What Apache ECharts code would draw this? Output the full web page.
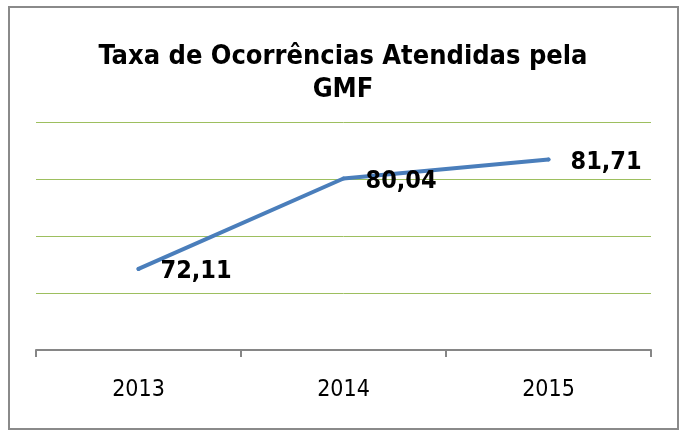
<!DOCTYPE html>
<html>
<head>
<meta charset="utf-8">
<script src="https://cdn.jsdelivr.net/npm/echarts@6/dist/echarts.min.js"></script>
<style>
  html, body { margin: 0; padding: 0; background: #fff; }
  #box { position: absolute; left: 8px; top: 6px; width: 667px; height: 420px; border: 2px solid #8a8a8a; }
  #chart { position: absolute; left: 0; top: 0; width: 686px; height: 432px; }
</style>
</head>
<body>
<div id="box"></div>
<div id="chart"></div>
<script>
// dados
var anos = ['2013', '2014', '2015'];
var taxa = [72.11, 80.04, 81.71];

var chart = echarts.init(document.getElementById('chart'));
chart.setOption({
    animation: false,
    title: {
        text: 'Taxa de Ocorrências Atendidas pela\nGMF',
        left: 'center',
        top: 35,
        textStyle: {
            fontFamily: 'DejaVu Sans Condensed',
            fontWeight: 'bold',
            fontSize: 27,
            lineHeight: 33,
            color: '#000'
        }
    },
    grid: { left: 36, right: 35, top: 122, bottom: 82 },
    xAxis: {
        type: 'category',
        data: anos,
        axisLine: { lineStyle: { color: '#868686', width: 2 } },
        axisTick: { show: true, length: 7, lineStyle: { color: '#868686', width: 2 } },
        axisLabel: {
            color: '#000',
            fontFamily: 'DejaVu Sans Condensed',
            fontSize: 23,
            margin: 29
        }
    },
    yAxis: {
        type: 'value',
        min: 65,
        max: 85,
        interval: 5,
        axisLine: { show: false },
        axisTick: { show: false },
        axisLabel: { show: false },
        splitLine: { lineStyle: { color: '#9dbf5f', width: 1 } }
    },
    series: [{
        type: 'line',
        data: taxa,
        symbol: 'circle',
        symbolSize: 4,
        showSymbol: true,
        itemStyle: { color: '#4a7ebb', borderWidth: 0 },
        lineStyle: { color: '#4a7ebb', width: 4, cap: 'round' },
        label: {
            show: true,
            position: 'right',
            distance: 20,
            offset: [0, 3],
            color: '#000',
            fontFamily: 'DejaVu Sans Condensed',
            fontWeight: 'bold',
            fontSize: 25,
            formatter: function (p) { return p.value.toFixed(2).replace('.', ','); }
        }
    }]
});
</script>
</body>
</html>
